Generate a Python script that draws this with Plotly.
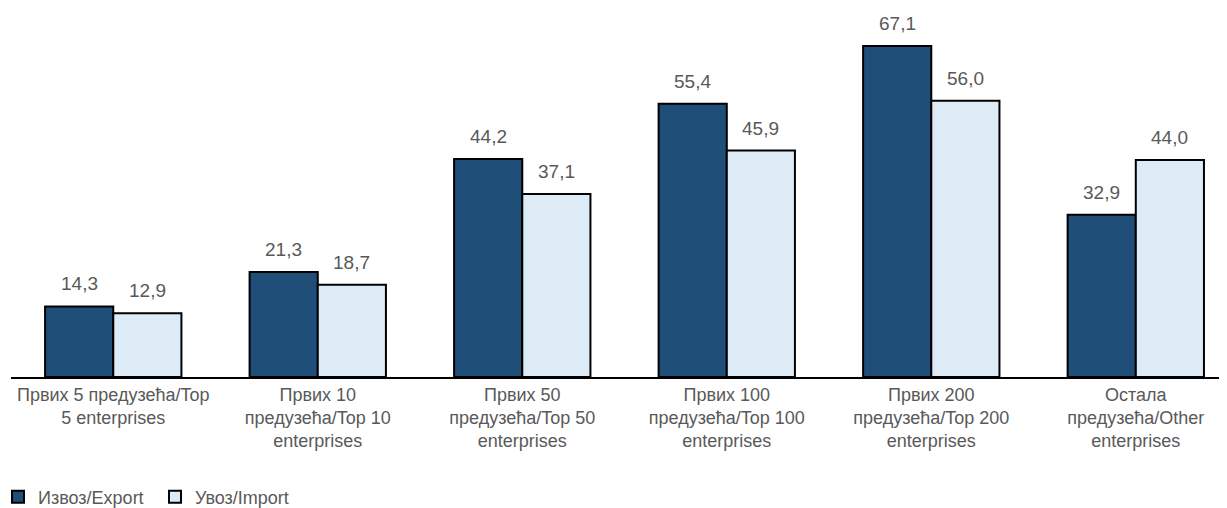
import plotly.graph_objects as go

categories = [
    "Првих 5 предузећа/Top<br>5 enterprises",
    "Првих 10<br>предузећа/Top 10<br>enterprises",
    "Првих 50<br>предузећа/Top 50<br>enterprises",
    "Првих 100<br>предузећа/Top 100<br>enterprises",
    "Првих 200<br>предузећа/Top 200<br>enterprises",
    "Остала<br>предузећа/Other<br>enterprises",
]
export_vals = [14.3, 21.3, 44.2, 55.4, 67.1, 32.9]
import_vals = [12.9, 18.7, 37.1, 45.9, 56.0, 44.0]
series_names = ["Извоз/Export", "Увоз/Import"]

FONT = "Liberation Sans, Arial, sans-serif"
GREY = "#595959"

fig = go.Figure()
fig.add_trace(go.Bar(x=categories, y=export_vals, name=series_names[0],
                     marker=dict(color="#1F4E79", line=dict(color="#000000", width=2))))
fig.add_trace(go.Bar(x=categories, y=import_vals, name=series_names[1],
                     marker=dict(color="#DDEBF7", line=dict(color="#000000", width=2))))

def fmt(v):
    return f"{v:.1f}".replace(".", ",")

annotations = []
for i, (e, m) in enumerate(zip(export_vals, import_vals)):
    for off, v in ((-1/6, e), (1/6, m)):
        annotations.append(dict(x=i + off, y=v, xref="x", yref="y", text=fmt(v),
                                showarrow=False, yanchor="bottom", yshift=10,
                                font=dict(family=FONT, size=19, color=GREY)))

# page body has an 8px default margin; figure sized so the plot lands where the reference has it
fig.update_layout(
    width=1219, height=500,
    margin=dict(l=3, r=0, t=0, b=131, autoexpand=False),
    paper_bgcolor="white", plot_bgcolor="white",
    barmode="group", bargap=1/3, bargroupgap=0,
    annotations=annotations,
    showlegend=True,
    legend=dict(orientation="h", x=-0.0107, xanchor="left", y=-0.325, yanchor="middle",
                font=dict(family=FONT, size=18, color=GREY), itemwidth=30,
                entrywidth=112, entrywidthmode="pixels", tracegroupgap=0),
    font=dict(family=FONT, color=GREY),
)
fig.update_xaxes(type="category", range=[-0.5, 5.446], showline=True, linecolor="#000000",
                 linewidth=2, ticks="", tickfont=dict(family=FONT, size=18, color=GREY),
                 showgrid=False, automargin=False)
fig.update_yaxes(range=[0, 74.8], visible=False, showgrid=False, zeroline=False)

fig.write_html("out.html")
